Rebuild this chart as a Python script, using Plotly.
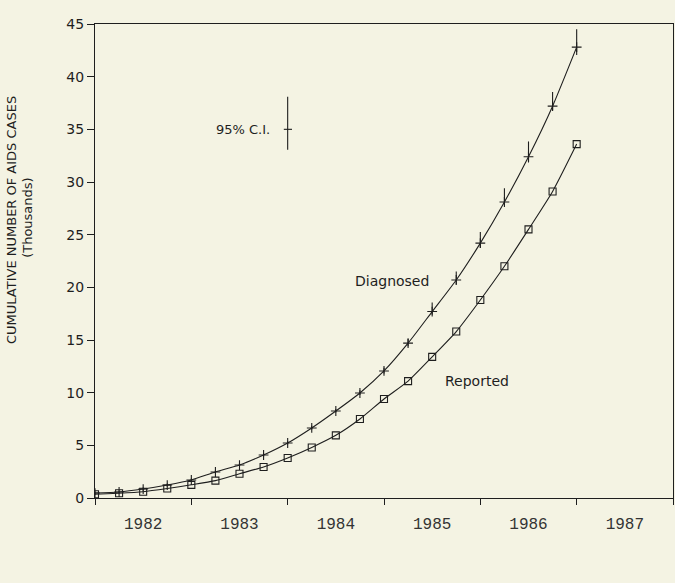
import plotly.graph_objects as go

# quarterly time points (years)
quarters = [1982.0, 1982.25, 1982.5, 1982.75, 1983.0, 1983.25, 1983.5, 1983.75,
            1984.0, 1984.25, 1984.5, 1984.75, 1985.0, 1985.25, 1985.5, 1985.75,
            1986.0, 1986.25, 1986.5, 1986.75, 1987.0]

# cumulative AIDS cases (thousands)
diagnosed = [0.47, 0.57, 0.85, 1.23, 1.71, 2.47, 3.13, 4.08, 5.22, 6.65, 8.26,
             9.97, 12.06, 14.7, 17.7, 20.7, 24.2, 28.1, 32.4, 37.2, 42.8]
reported = [0.35, 0.45, 0.6, 0.9, 1.25, 1.65, 2.3, 2.95, 3.8, 4.8, 5.95,
            7.5, 9.4, 11.1, 13.4, 15.8, 18.8, 22.0, 25.5, 29.1, 33.6]

# 95% confidence interval (upper / lower half-widths, thousands)
ci_upper = [0.15, 0.15, 0.15, 0.15, 0.15, 0.15, 0.2, 0.2, 0.2, 0.2, 0.2,
            0.25, 0.3, 0.4, 0.85, 0.8, 1.05, 1.3, 1.45, 1.35, 1.7]
ci_lower = [0.15, 0.15, 0.15, 0.15, 0.15, 0.15, 0.15, 0.15, 0.15, 0.15, 0.15,
            0.2, 0.25, 0.3, 0.3, 0.45, 0.45, 0.3, 0.55, 0.4, 0.75]

year_labels = ["1982", "1983", "1984", "1985", "1986", "1987"]
year_centers = [1982.5, 1983.5, 1984.5, 1985.5, 1986.5, 1987.5]
y_ticks = [0, 5, 10, 15, 20, 25, 30, 35, 40, 45]

ink = "#1e1e1e"
bg = "#f4f3e3"
sans = "DejaVu Sans"
mono = "Liberation Mono, DejaVu Sans Mono, Courier New, monospace"

fig = go.Figure()

fig.add_trace(go.Scatter(
    x=quarters, y=diagnosed, mode="lines+markers", name="Diagnosed",
    line=dict(color=ink, width=1.1, shape="spline", smoothing=0.6),
    marker=dict(symbol="cross-thin", size=7, color=ink, line=dict(color=ink, width=1.1)),
    error_y=dict(type="data", symmetric=False, array=ci_upper, arrayminus=ci_lower,
                 width=0, thickness=1.1, color=ink),
    showlegend=False,
))

fig.add_trace(go.Scatter(
    x=quarters, y=reported, mode="lines+markers", name="Reported",
    line=dict(color=ink, width=1.1, shape="spline", smoothing=0.6),
    marker=dict(symbol="square-open", size=7, color=ink, line=dict(color=ink, width=1.1)),
    showlegend=False,
))

# 95% C.I. key
fig.add_shape(type="line", x0=1984.0, x1=1984.0, y0=33.05, y1=38.1,
              line=dict(color=ink, width=1.1))
fig.add_shape(type="line", x0=1983.96, x1=1984.045, y0=35.0, y1=35.0,
              line=dict(color=ink, width=1.1))

annos = [
    dict(x=1983.84, y=35.0, text="95% C.I.", xanchor="right", yanchor="middle",
         showarrow=False, font=dict(family=sans, size=13, color=ink)),
    dict(x=1985.08, y=20.6, text="Diagnosed", xanchor="center", yanchor="middle",
         showarrow=False, font=dict(family=sans, size=14, color=ink)),
    dict(x=1985.97, y=11.1, text="Reported", xanchor="center", yanchor="middle",
         showarrow=False, font=dict(family=sans, size=14, color=ink)),
    dict(xref="paper", yref="paper", x=-0.1436, y=0.5865,
         text="CUMULATIVE NUMBER OF AIDS CASES", textangle=-90,
         xanchor="center", yanchor="middle", showarrow=False,
         font=dict(family=sans, size=13, color=ink)),
    dict(xref="paper", yref="paper", x=-0.116, y=0.593,
         text="(Thousands)", textangle=-90,
         xanchor="center", yanchor="middle", showarrow=False,
         font=dict(family=sans, size=13, color=ink)),
]
fig.update_layout(annotations=annos)

fig.update_layout(
    width=675, height=583,
    margin=dict(l=95, r=2, t=24, b=85),
    paper_bgcolor=bg, plot_bgcolor=bg,
    xaxis=dict(
        range=[1982.0, 1988.0], showgrid=False, zeroline=False,
        showline=True, linecolor=ink, linewidth=1.3, mirror=True,
        tickmode="array", tickvals=year_centers, ticktext=year_labels,
        ticks="outside", ticklen=11, tickcolor="rgba(0,0,0,0)",
        tickfont=dict(family=mono, size=16, color="#333"),
        minor=dict(tickmode="linear", tick0=1982, dtick=1, ticks="outside",
                   ticklen=6, tickcolor=ink, tickwidth=1.2, showgrid=False),
    ),
    yaxis=dict(
        range=[0, 45], showgrid=False, zeroline=False,
        showline=True, linecolor=ink, linewidth=1.3, mirror=True,
        tickmode="array", tickvals=y_ticks,
        ticks="outside", ticklen=7, tickcolor=ink, tickwidth=1.2,
        tickfont=dict(family=sans, size=14, color=ink),
    ),
)

fig.write_html("out.html")
